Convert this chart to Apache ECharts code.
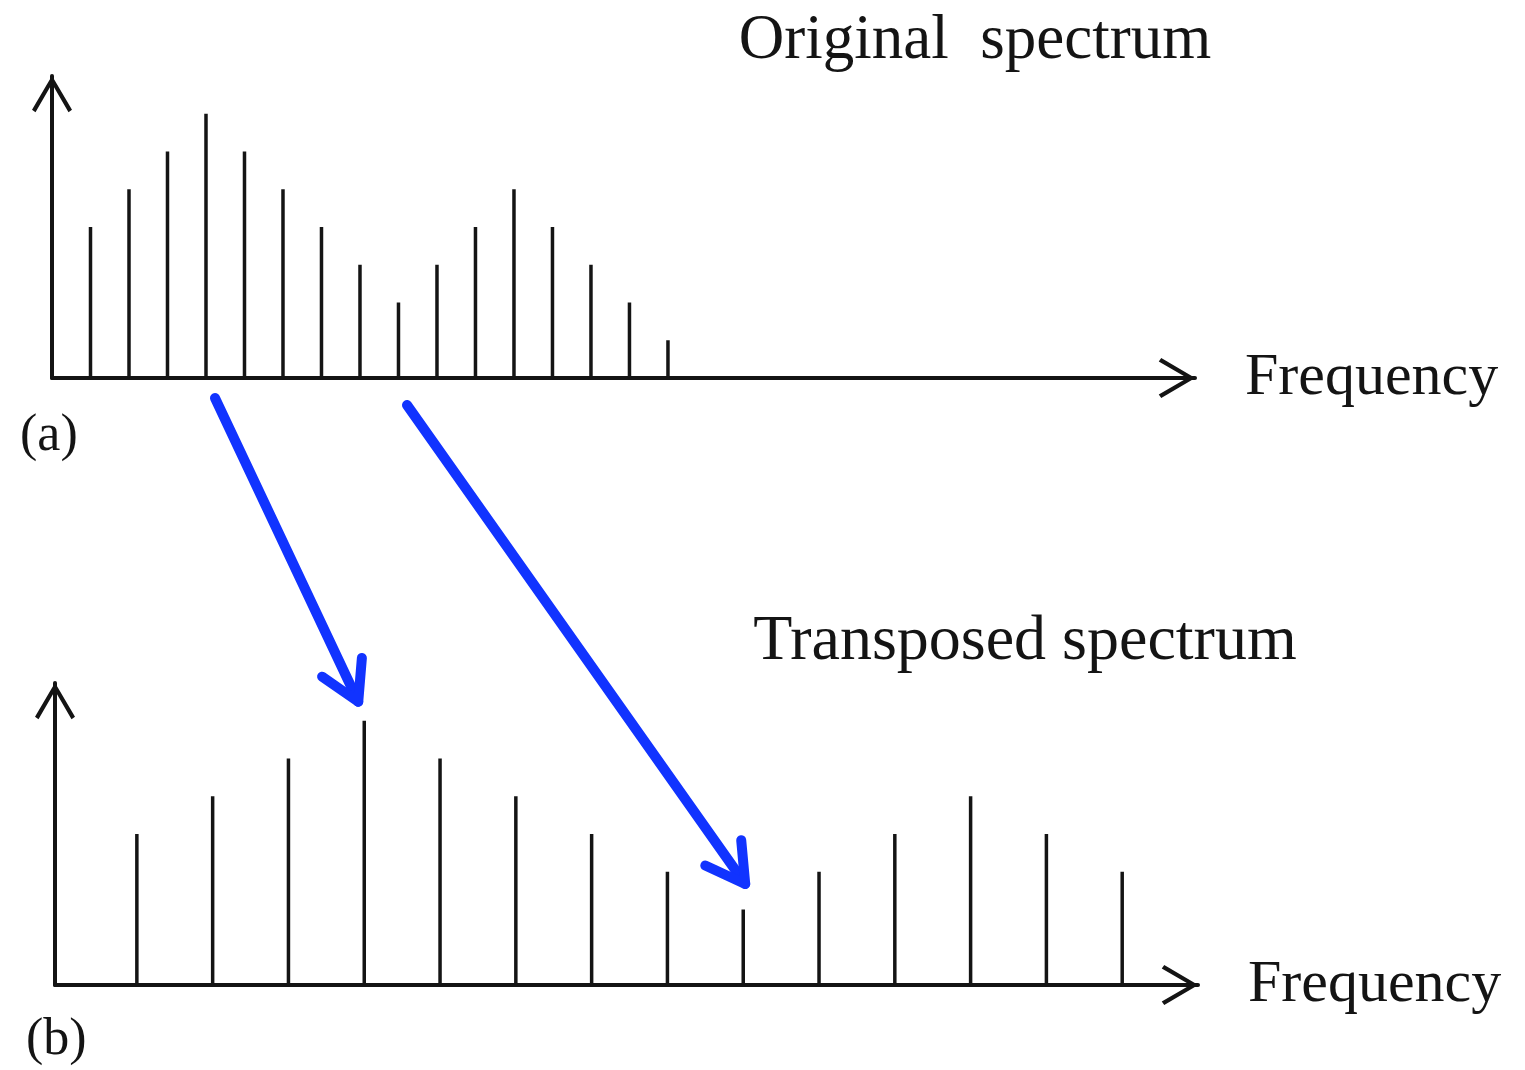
<!DOCTYPE html>
<html><head><meta charset="utf-8">
<script src="https://cdn.jsdelivr.net/npm/echarts@6/dist/echarts.min.js"></script>
<style>html,body{margin:0;padding:0;background:#fff}#c{width:1525px;height:1070px}</style>
</head><body><div id="c"></div>
<script>
// ---- data ----
const origFreq  = [1,2,3,4,5,6,7,8,9,10,11,12,13,14,15,16];
const origAmp   = [4,5,6,7,6,5,4,3,2,3,4,5,4,3,2,1];
const transFreq = [2,4,6,8,10,12,14,16,18,20,22,24,26,28];
const transAmp  = [4,5,6,7,6,5,4,3,2,3,4,5,4,3];
const panelTitles = ['Original  spectrum', 'Transposed spectrum'];
const axisLabel = 'Frequency';
const panelLabels = ['(a)', '(b)'];
// arrows: [index in original, index in transposed]
const arrowLinks = [[3, 3], [8, 8]];

const SERIF = '"Liberation Serif","Times New Roman",serif';
const INK = '#141414';
const chevron = 'path://M20,0 L40,34 L36.5,36.5 L20,8 L3.5,36.5 L0,34 Z';

function axisLineStyle() {
  return {
    show: true, onZero: false,
    lineStyle: {color: INK, width: 4},
    symbol: ['none', chevron], symbolSize: [40, 37], symbolOffset: [0, -18]
  };
}
function xAx(idx, min, max) {
  return {
    gridIndex: idx, type: 'value', min: min, max: max,
    axisLine: axisLineStyle(), axisTick: {show: false}, axisLabel: {show: false},
    splitLine: {show: false},
    name: axisLabel, nameLocation: 'end', nameGap: 50,
    nameTextStyle: {fontFamily: SERIF, fontSize: 60, color: INK, align: 'left', verticalAlign: 'middle', padding: [12, 0, 0, 0]}
  };
}
function yAx(idx) {
  return {
    gridIndex: idx, type: 'value', min: 0, max: 8,
    axisLine: axisLineStyle(), axisTick: {show: false}, axisLabel: {show: false},
    splitLine: {show: false}
  };
}

const chart = echarts.init(document.getElementById('c'), null, {renderer: 'canvas'});
chart.setOption({
  animation: false,
  backgroundColor: '#fff',
  title: [
    {text: panelTitles[0], left: 970, top: 5, textAlign: 'center',
     textStyle: {fontFamily: SERIF, fontSize: 63, fontWeight: 'normal', color: INK}},
    {text: panelTitles[1], left: 1020, top: 605, textAlign: 'center',
     textStyle: {fontFamily: SERIF, fontSize: 64, fontWeight: 'normal', color: INK}}
  ],
  grid: [
    {left: 52, top: 76, width: 1143, height: 302},
    {left: 55, top: 683, width: 1143, height: 302}
  ],
  xAxis: [xAx(0, 0, 29.69), xAx(1, -0.16, 30)],
  yAxis: [yAx(0), yAx(1)],
  series: [
    {type: 'bar', xAxisIndex: 0, yAxisIndex: 0, barWidth: 3.5,
     itemStyle: {color: INK}, data: origFreq.map((f, i) => [f, origAmp[i]])},
    {type: 'bar', xAxisIndex: 1, yAxisIndex: 1, barWidth: 3.5,
     itemStyle: {color: INK}, data: transFreq.map((f, i) => [f, transAmp[i]])}
  ]
});

// ---- annotations: blue arrows computed from data positions ----
function arrowEls(p0, p1) {
  const ang = Math.atan2(p1[1] - p0[1], p1[0] - p0[0]);
  const back = ang + Math.PI, L = 44, s = Math.PI / 6;
  const a1 = [p1[0] + L * Math.cos(back - s), p1[1] + L * Math.sin(back - s)];
  const a2 = [p1[0] + L * Math.cos(back + s), p1[1] + L * Math.sin(back + s)];
  const st = {stroke: '#1133ff', lineWidth: 10, lineCap: 'round', lineJoin: 'round', fill: null};
  return [
    {type: 'polyline', shape: {points: [p0, p1]}, style: st, z: 100},
    {type: 'polyline', shape: {points: [a1, p1, a2]}, style: st, z: 100}
  ];
}
const offs = [[[9, 20], [-6, -19]], [[8.5, 27], [2, -25.5]]];
const g = [];
arrowLinks.forEach((lk, k) => {
  const a = chart.convertToPixel({gridIndex: 0}, [origFreq[lk[0]], 0]);
  const b = chart.convertToPixel({gridIndex: 1}, [transFreq[lk[1]], transAmp[lk[1]]]);
  g.push(...arrowEls([a[0] + offs[k][0][0], a[1] + offs[k][0][1]],
                     [b[0] + offs[k][1][0], b[1] + offs[k][1][1]]));
});
g.push({type: 'text', left: 20, top: 410, style: {text: panelLabels[0], font: '52px ' + SERIF, fill: INK}});
g.push({type: 'text', left: 26, top: 1014, style: {text: panelLabels[1], font: '52px ' + SERIF, fill: INK}});
chart.setOption({graphic: g});
</script>
</body></html>
